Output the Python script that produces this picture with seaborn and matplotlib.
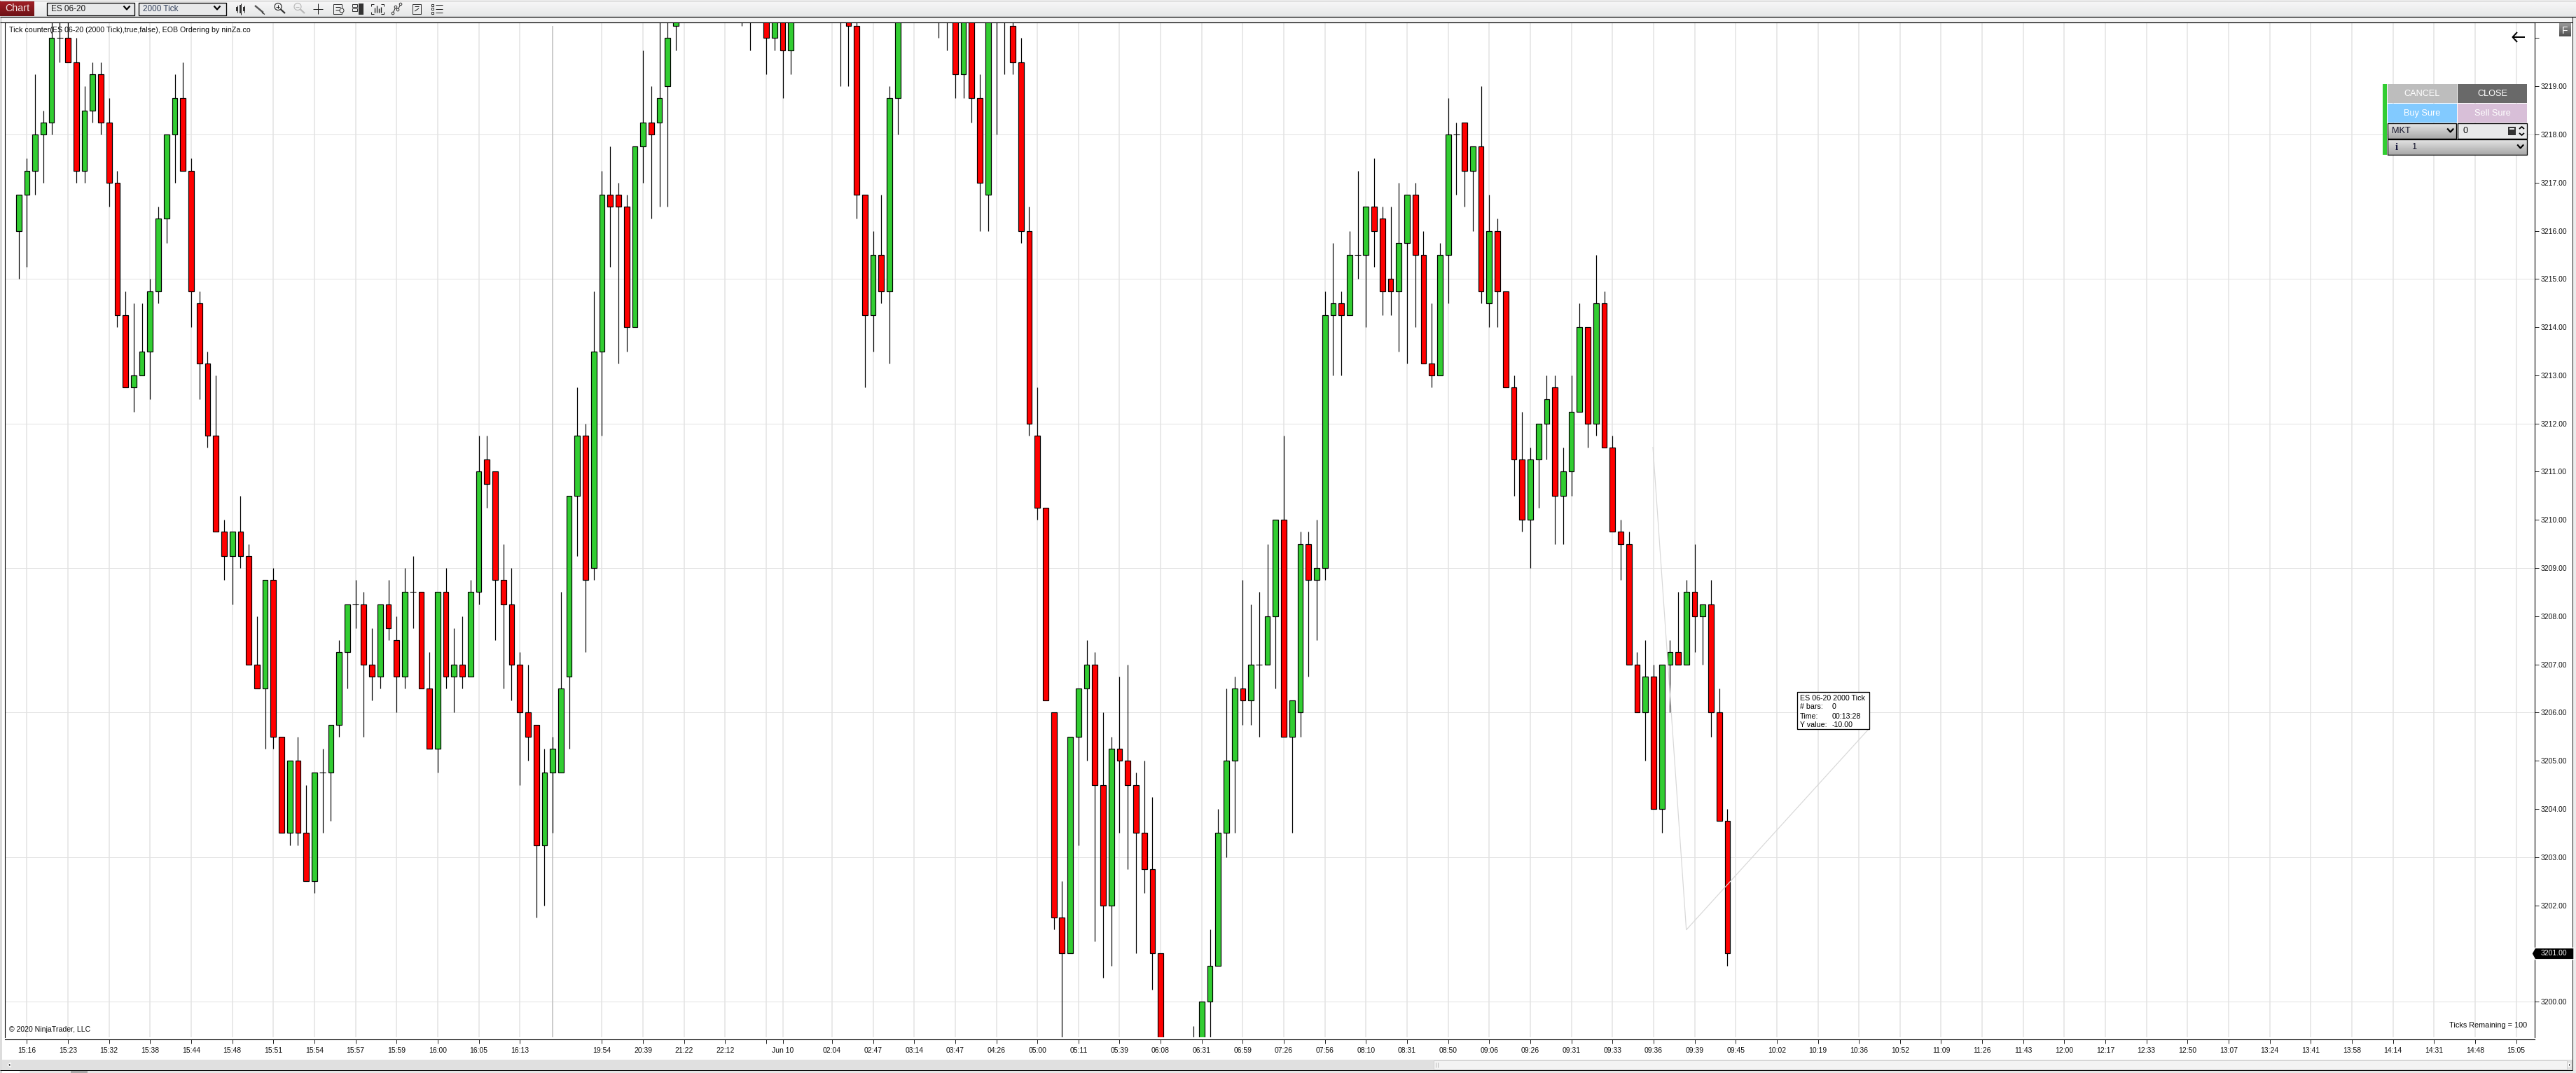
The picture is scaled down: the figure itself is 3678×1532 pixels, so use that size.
import numpy as np
import pandas as pd
import matplotlib
matplotlib.use('Agg')
import matplotlib.pyplot as plt
from matplotlib.patches import Rectangle, Polygon
import seaborn as sns

# candle values, one per bar (bars above/below the window are estimates)
opens = [
    3216, 3216.75, 3217.25, 3218, 3218.25, 3220, 3220, 3219.5, 3217.25, 3218.5,
    3219.25, 3218.25, 3217, 3214.25, 3212.75, 3213, 3213.5, 3214.75, 3216.25, 3218,
    3218.75, 3217.25, 3214.5, 3213.25, 3211.75, 3209.75, 3209.25, 3209.75, 3209.25, 3207,
    3206.5, 3208.75, 3205.5, 3203.5, 3205, 3203.5, 3202.5, 3204.75, 3204.75, 3205.75,
    3207.25, 3208.25, 3208.25, 3207, 3206.75, 3208.25, 3207.5, 3206.75, 3208.5, 3208.5,
    3206.5, 3205.25, 3208.5, 3206.75, 3207, 3206.75, 3208.5, 3211.25, 3211, 3208.75,
    3208.25, 3207, 3206, 3205.75, 3203.25, 3204.75, 3204.75, 3206.75, 3210.5, 3211.75,
    3209, 3213.5, 3216.75, 3216.75, 3216.5, 3214, 3217.75, 3218.25, 3218.25, 3219,
    3220.25, 3220.75, 3221.25, 3221.75, 3221.25, 3222, 3221.5, 3221, 3220.75, 3221.25,
    3220.75, 3220.75, 3220, 3220.5, 3219.75, 3220.75, 3221.25, 3221.75, 3221.25, 3220.75,
    3221.25, 3220.75, 3220.25, 3216.75, 3214.25, 3215.5, 3214.75, 3218.75, 3220.75, 3221.25,
    3221.75, 3221.25, 3221, 3220.75, 3220.5, 3219.25, 3220.5, 3218.75, 3216.75, 3221,
    3220.75, 3220.25, 3219.5, 3216, 3211.75, 3210.25, 3206, 3201.75, 3201, 3205.5,
    3206.5, 3207, 3204.5, 3202, 3205.25, 3205, 3204.5, 3203.5, 3202.75, 3201,
    3199, 3198.5, 3198.75, 3198.5, 3199, 3200, 3200.75, 3203.5, 3205, 3206.5,
    3206.25, 3207, 3207, 3208, 3210, 3205.5, 3206, 3209.5, 3208.75, 3209,
    3214.25, 3214.5, 3214.25, 3215.5, 3215.5, 3216.5, 3216.25, 3215, 3214.75, 3215.75,
    3216.75, 3215.5, 3213.25, 3213, 3215.5, 3218, 3218.25, 3217.25, 3217.75, 3214.5,
    3216, 3214.75, 3212.75, 3211.25, 3210, 3211.25, 3212, 3212.75, 3210.5, 3211,
    3212.25, 3214, 3212, 3214.5, 3211.5, 3209.75, 3209.5, 3207, 3206, 3206.75,
    3204, 3207, 3207.25, 3207, 3208.5, 3208, 3208.25, 3206, 3203.75,
]
closes = [
    3216.75, 3217.25, 3218, 3218.25, 3220, 3220, 3219.5, 3217.25, 3218.5, 3219.25,
    3218.25, 3217, 3214.25, 3212.75, 3213, 3213.5, 3214.75, 3216.25, 3218, 3218.75,
    3217.25, 3214.75, 3213.25, 3211.75, 3209.75, 3209.25, 3209.75, 3209.25, 3207, 3206.5,
    3208.75, 3205.5, 3203.5, 3205, 3203.5, 3202.5, 3204.75, 3204.75, 3205.75, 3207.25,
    3208.25, 3208.25, 3207, 3206.75, 3208.25, 3207.75, 3206.75, 3208.5, 3208.5, 3206.5,
    3205.25, 3208.5, 3206.75, 3207, 3206.75, 3208.5, 3211, 3210.75, 3208.75, 3208.25,
    3207, 3206, 3205.5, 3203.25, 3204.75, 3205.25, 3206.5, 3210.5, 3211.75, 3208.75,
    3213.5, 3216.75, 3216.5, 3216.5, 3214, 3217.75, 3218.25, 3218, 3218.75, 3220,
    3220.75, 3221.25, 3221.75, 3221.25, 3222, 3221.5, 3221, 3221.5, 3221.25, 3220.75,
    3221.25, 3220, 3220.5, 3219.75, 3220.75, 3221.25, 3221.75, 3221.25, 3220.75, 3221.25,
    3220.75, 3220.25, 3216.75, 3214.25, 3215.5, 3214.75, 3218.75, 3220.75, 3221.25, 3221.75,
    3221.25, 3220.75, 3220.5, 3220.5, 3219.25, 3220.5, 3218.75, 3217, 3220.75, 3220.5,
    3220.5, 3219.5, 3216, 3212, 3210.25, 3206.25, 3201.75, 3201, 3205.5, 3206.5,
    3207, 3204.5, 3202, 3205.25, 3205, 3204.5, 3203.5, 3202.75, 3201, 3199,
    3198.5, 3198.75, 3198.5, 3199, 3200, 3200.75, 3203.5, 3205, 3206.5, 3206.25,
    3207, 3207, 3208, 3210, 3205.5, 3206.25, 3209.5, 3208.75, 3209, 3214.25,
    3214.5, 3214.25, 3215.5, 3215.5, 3216.5, 3216, 3214.75, 3214.75, 3215.75, 3216.75,
    3215.5, 3213.25, 3213, 3215.5, 3218, 3218, 3217.25, 3217.75, 3214.75, 3216,
    3214.75, 3212.75, 3211.25, 3210, 3211.25, 3212, 3212.5, 3210.5, 3211, 3212.25,
    3214, 3212, 3214.5, 3211.5, 3209.75, 3209.5, 3207, 3206, 3206.75, 3204,
    3207, 3207.25, 3207, 3208.5, 3208, 3208.25, 3206, 3203.75, 3201,
]
highs = [
    3216.75, 3217.5, 3219.25, 3218.5, 3220.75, 3220.75, 3220.75, 3220, 3219, 3219.5,
    3219.5, 3218.75, 3217.25, 3214.75, 3214.5, 3214.5, 3215, 3216.5, 3218, 3219.25,
    3219.5, 3217.5, 3214.75, 3213.5, 3213, 3210, 3209.75, 3210.5, 3209.5, 3208,
    3208.75, 3209, 3205.5, 3205, 3205.5, 3204.5, 3204.75, 3205.25, 3205.75, 3207.5,
    3208.25, 3208.75, 3208.5, 3207.75, 3208.25, 3208.75, 3208, 3209, 3209.25, 3208.5,
    3207.25, 3208.5, 3209, 3207.75, 3208, 3208.75, 3211.75, 3211.75, 3211, 3209.5,
    3209, 3207.25, 3207, 3205.75, 3205.25, 3205.5, 3208.5, 3210.5, 3212.75, 3212,
    3214.75, 3217.25, 3217.75, 3217, 3216.75, 3217.75, 3219.75, 3219, 3220.75, 3220.75,
    3221, 3221.5, 3222, 3222, 3222.25, 3222.25, 3221.75, 3221.75, 3221.5, 3221.5,
    3221.5, 3221, 3220.75, 3220.75, 3221, 3221.5, 3222, 3222, 3221.5, 3221.5,
    3221.5, 3221, 3220.5, 3216.75, 3216, 3216.75, 3219, 3221, 3221.5, 3222,
    3222, 3221.5, 3221.25, 3221, 3220.75, 3220.75, 3220.75, 3219.25, 3221, 3221.25,
    3221, 3220.75, 3220, 3216.5, 3212.75, 3210.25, 3206, 3202.5, 3205.5, 3206.5,
    3207.5, 3207.25, 3206, 3205.5, 3206.75, 3207, 3204.75, 3205, 3204.25, 3201,
    3199, 3199, 3199, 3199.5, 3200, 3201.5, 3204, 3206.5, 3206.75, 3208.75,
    3208.25, 3208.5, 3209.5, 3210, 3211.75, 3206.25, 3209.75, 3209.75, 3210, 3214.75,
    3215.75, 3214.75, 3216, 3217.25, 3216.5, 3217.5, 3216.5, 3216.5, 3217, 3216.75,
    3217, 3216, 3214.5, 3215.75, 3218.75, 3218.25, 3218.25, 3217.75, 3219, 3216.75,
    3216.25, 3214.75, 3213, 3212.25, 3211.5, 3212, 3213, 3213, 3211.5, 3213,
    3214.5, 3214, 3215.5, 3214.75, 3211.75, 3210, 3209.75, 3207.25, 3207.5, 3207,
    3207, 3207.5, 3208.5, 3208.75, 3209.5, 3208.25, 3208.75, 3206.5, 3204,
]
lows = [
    3215, 3215.25, 3216.75, 3217, 3218, 3219.5, 3219.5, 3217, 3217, 3218.25,
    3218, 3216.5, 3214, 3212.75, 3212.25, 3213, 3212.5, 3214.5, 3215.75, 3217,
    3217.25, 3214, 3212.5, 3211.5, 3209.75, 3208.75, 3208.25, 3209, 3207, 3206.5,
    3205.25, 3205.25, 3203.5, 3203.25, 3203.25, 3202.5, 3202.25, 3203.5, 3203.75, 3205.5,
    3206.5, 3207.75, 3205.5, 3206.25, 3206.5, 3207.5, 3206, 3206.5, 3207.75, 3206.5,
    3205.25, 3204.75, 3206.5, 3206, 3206.5, 3206.75, 3208.25, 3210.25, 3207.5, 3206.5,
    3206.25, 3204.5, 3205, 3201.75, 3202, 3203.5, 3204.75, 3205.25, 3209.25, 3207.25,
    3208.75, 3211.75, 3215.25, 3213.25, 3213.5, 3214, 3217, 3216.25, 3216.5, 3216.5,
    3219.75, 3220.5, 3221, 3221, 3221, 3221.25, 3220.75, 3220.5, 3220.25, 3219.75,
    3220.5, 3219.25, 3219.75, 3218.75, 3219.25, 3220.5, 3221, 3221, 3220.5, 3220.5,
    3219, 3219, 3216.25, 3212.75, 3213.5, 3214.5, 3213.25, 3218, 3220.5, 3221,
    3221, 3220.5, 3220, 3219.75, 3218.75, 3218.75, 3218.25, 3216, 3216, 3218,
    3219.25, 3219.25, 3215.75, 3211.75, 3210, 3206.25, 3201.5, 3199, 3201, 3203.25,
    3205, 3201.25, 3200.5, 3200.75, 3203.5, 3202.75, 3201, 3202.25, 3200.25, 3199,
    3198.25, 3198.25, 3198.25, 3198.25, 3198.75, 3199, 3200.75, 3203, 3203.5, 3205.75,
    3205.75, 3205.5, 3207, 3206.5, 3205.5, 3203.5, 3205.5, 3206.75, 3207.5, 3208.75,
    3213, 3213, 3214.25, 3215, 3214, 3215.25, 3214.25, 3214.25, 3213.5, 3213.25,
    3214, 3213.25, 3212.75, 3213, 3214.5, 3216.75, 3216.5, 3216, 3214.5, 3214,
    3214, 3212.75, 3210.5, 3209.75, 3209, 3210.25, 3211.25, 3209.5, 3209.5, 3210.5,
    3212.25, 3211.5, 3211.75, 3211.5, 3209.75, 3208.75, 3207, 3206, 3205, 3204,
    3203.5, 3206, 3207, 3207, 3207.25, 3207, 3205.5, 3203.75, 3200.75,
]

# time axis labels and the bars they sit on
tick_bars = [1, 6, 11, 16, 21, 26, 31, 36, 41, 46, 51, 56, 61, 71, 76, 81, 86, 91, 93, 99,
             104, 109, 114, 119, 124, 129, 134, 139, 144, 149, 154, 159, 164, 169, 174, 179,
             184, 189, 194, 199, 204, 209, 214, 219, 224, 229, 234, 239, 244, 249, 254, 259,
             264, 269, 274, 279, 284, 289, 294, 299, 304]
tick_labels = ['15:16', '15:23', '15:32', '15:38', '15:44', '15:48', '15:51', '15:54', '15:57',
               '15:59', '16:00', '16:05', '16:13', '19:54', '20:39', '21:22', '22:12', '',
               'Jun 10', '02:04', '02:47', '03:14', '03:47', '04:26', '05:00', '05:11', '05:39',
               '06:08', '06:31', '06:59', '07:26', '07:56', '08:10', '08:31', '08:50', '09:06',
               '09:26', '09:31', '09:33', '09:36', '09:39', '09:45', '10:02', '10:19', '10:36',
               '10:52', '11:09', '11:26', '11:43', '12:00', '12:17', '12:33', '12:50', '13:07',
               '13:24', '13:41', '13:58', '14:14', '14:31', '14:48', '15:05']
session_break = 65
price_labels = list(range(3200, 3220))
price_ticks = list(range(3200, 3221))
grid_prices = [3200, 3203, 3206, 3209, 3212, 3215, 3218]
last_price = 3201.00

W, H = 3678, 1532
GREEN = '#32cd32'
RED = '#ff0000'
GRID = '#e2e2e2'
PX = 0.72  # one pixel in points at dpi 100

sns.set_style('white')
plt.rcParams['font.family'] = ['Liberation Sans', 'DejaVu Sans']

df = pd.DataFrame({'open': opens, 'high': highs, 'low': lows, 'close': closes})
df['bar'] = df.index
df['bottom'] = df[['open', 'close']].min(axis=1)
df['height'] = (df['close'] - df['open']).abs()
up = df[df['close'] > df['open']]
down = df[df['close'] < df['open']]
flat = df[df['close'] == df['open']]

fig = plt.figure(figsize=(W / 100, H / 100), dpi=100, facecolor='white')

# price window in figure pixels: left 7, right 3619, top 32, bottom 1481
ax = fig.add_axes([7.1 / W, 1 - 1481 / H, (3619.3 - 7.1) / W, (1481 - 31.6) / H])
ax.set_facecolor('white')

ax.hlines(grid_prices, 0, 1, transform=ax.get_yaxis_transform(), colors=GRID, lw=1 * PX, zorder=0.5)
ax.vlines(tick_bars, 0, 1, transform=ax.get_xaxis_transform(), colors=GRID, lw=1.5 * PX, zorder=0.5)
ax.vlines([session_break], 0, 0.996, transform=ax.get_xaxis_transform(), colors='#c0c0c0', lw=1.6 * PX, zorder=1)

ax.vlines(df['bar'], df['low'], df['high'], colors='black', lw=1.2 * PX, zorder=2)
ax.hlines(flat['open'], flat['bar'] - 0.38, flat['bar'] + 0.38, colors='black', lw=1.1 * PX, zorder=2)

for part, colour in [(up, GREEN), (down, RED)]:
    sns.barplot(data=part, x='bar', y='height', bottom=part['bottom'].values, native_scale=True,
                width=0.66, color=colour, saturation=1, edgecolor='black', linewidth=1.2 * PX,
                errorbar=None, zorder=3, ax=ax)

ax.set_xlim(-1.668, 306.28)
ax.set_ylim(3199.263, 3220.33)
ax.set_xlabel('')
ax.set_ylabel('')
ax.yaxis.tick_right()
ax.set_yticks(price_ticks)
ax.set_yticklabels([f'{p}.00' if p in price_labels else '' for p in price_ticks])
ax.set_xticks(tick_bars)
ax.set_xticklabels(tick_labels)
ax.tick_params(axis='y', length=5.5 * PX, width=1 * PX, pad=2.2, labelsize=7.5, labelcolor='#111111', right=True, left=False)
ax.tick_params(axis='x', length=5.5 * PX, width=1 * PX, pad=4, labelsize=7.5, labelcolor='#111111', bottom=True)
for s in ax.spines.values():
    s.set_visible(True)
    s.set_color('black')
    s.set_linewidth(1.1 * PX)
ax.spines['bottom'].set_position(('outward', 2.7 * PX))

# window furniture is drawn in pixel coordinates on a clear overlay
ui = fig.add_axes([0, 0, 1, 1], facecolor='none', zorder=5)
ui.set_xlim(0, W)
ui.set_ylim(H, 0)
ui.axis('off')


def box(x0, y0, x1, y1, fc='white', ec='none', lw=1.0, z=1):
    ui.add_patch(Rectangle((x0, y0), x1 - x0, y1 - y0, facecolor=fc, edgecolor=ec, linewidth=lw * PX, zorder=z))


def grad(x0, y0, x1, y1, top, bottom, z=1):
    vals = np.linspace(0, 1, 32).reshape(-1, 1, 1)
    c0 = np.array(matplotlib.colors.to_rgb(top)).reshape(1, 1, 3)
    c1 = np.array(matplotlib.colors.to_rgb(bottom)).reshape(1, 1, 3)
    ui.imshow(c0 + (c1 - c0) * vals, extent=(x0, x1, y1, y0), aspect='auto', zorder=z, interpolation='bilinear')


def seg(xs, ys, c='#222222', lw=1.2, z=3):
    ui.plot(xs, ys, color=c, lw=lw * PX, zorder=z, solid_capstyle='butt')


def chevron(x, y, c='black'):
    seg([x - 4.5, x, x + 4.5], [y - 2.5, y + 2.5, y - 2.5], c=c, lw=2.2, z=4)


def label(x, y, s, size=7.5, c='#1a1a1a', ha='left', z=4, **kw):
    ui.text(x, y, s, fontsize=size, color=c, ha=ha, va='center', zorder=z, **kw)


# toolbar
box(0, 24, W, 31, fc='#f4f4f4')
grad(0, 0, W, 24, '#f8f8f8', '#e6e7e8')
seg([0, W], [0.5, 0.5], c='#b8b8b8', lw=1)
seg([0, W], [24, 24], c='black', lw=1.2)
grad(0, 1, 49, 23, '#a32026', '#6e1216', z=2)
label(7, 12, 'Chart', size=10.3, c='#f4e6e6')
box(67, 3.5, 192, 21.5, fc='#e8e9ea', ec='black', lw=1.3, z=2)
label(73, 12.5, 'ES 06-20', size=8.5)
chevron(181, 11)
box(198, 3.5, 323, 21.5, fc='#e8e9ea', ec='black', lw=1.3, z=2)
label(204, 12.5, '2000 Tick', size=8.5, c='#33415c')
chevron(310, 11)

# toolbar icons
for x, y0, y1 in [(339, 8, 18), (344, 5, 21), (349, 8, 18)]:
    seg([x, x], [y0, y1], lw=1)
    box(x - 1.5, y0 + 2, x + 1.5, y1 - 2, fc='#333333', z=3)
seg([364, 376], [8, 18], c='#555555', lw=2.4)
seg([374, 378], [18, 20.5], lw=1.2)
for x, c in [(397, '#333333'), (425, '#b9b9b9')]:
    ui.add_patch(plt.Circle((x, 9.5), 5, fc='none', ec=c, lw=1.2 * PX, zorder=3))
    seg([x + 3.5, x + 10], [13, 19], c=c, lw=2.2)
    seg([x - 2.5, x + 2.5], [9.5, 9.5], c=c, lw=1)
seg([397, 397], [7, 12], lw=1)
seg([447, 461], [12.5, 12.5], lw=1)
seg([454, 454], [5, 20], lw=1)
box(476, 5.5, 488, 20, fc='none', ec='#333333', z=3)
seg([479, 486], [10, 10], lw=1)
seg([479, 486], [14, 14], lw=1)
ui.add_patch(plt.Circle((488, 15), 3, fc='#f0f0f0', ec='#333333', lw=1 * PX, zorder=4))
box(503, 5.5, 510, 10, fc='none', ec='#333333', z=3)
box(503, 12, 510, 16, fc='none', ec='#333333', z=3)
box(512, 5, 519, 21, fc='#333333', z=3)
seg([530, 530, 534], [9, 6, 6], lw=1)
seg([544, 548, 548], [6, 6, 9], lw=1)
seg([530, 530, 534], [17, 20, 20], lw=1)
seg([544, 548, 548], [20, 20, 17], lw=1)
for x, y in [(535, 11), (538, 8), (541, 12), (544, 10)]:
    seg([x, x], [y, 18], lw=1.3)
seg([561, 565, 568, 572], [19, 10, 14, 6], lw=1)
for x, y in [(561, 19), (565, 10), (568, 14), (572, 6)]:
    ui.add_patch(plt.Circle((x, y), 1.8, fc='#f0f0f0', ec='#333333', lw=1 * PX, zorder=4))
box(589, 5.5, 601, 20, fc='none', ec='#333333', z=3)
seg([592, 598], [9, 9], lw=1)
seg([592, 598], [16, 12], lw=1)
for y in [7, 12.5, 18]:
    box(616, y - 1.5, 619.5, y + 1.5, fc='none', ec='#333333', z=3)
    seg([622, 632], [y, y], lw=1)

# left strip, right strip, scrollbar
box(0, 24, 3, H, fc='#dcdcdc')
box(3673.5, 24, W, H, fc='#ececec')
seg([3673.5, 3673.5], [24, 1528], c='#222222', lw=1)
seg([0, 3673], [31.6, 31.6], c='black', lw=1.1)
box(3, 1513, 3673, 1528, fc='#e0e0e0')
box(2047, 1514, 3665, 1527, fc='#f3f3f3', ec='#d0d0d0', z=2)
seg([2050, 2050], [1517, 1524], c='#bdbdbd', lw=1, z=3)
seg([2053, 2053], [1517, 1524], c='#bdbdbd', lw=1, z=3)
ui.add_patch(Polygon([[11, 1520.5], [15, 1517.5], [15, 1523.5]], fc='black', zorder=3))
ui.add_patch(Polygon([[3671, 1520.5], [3667.5, 1517.5], [3667.5, 1523.5]], fc='black', zorder=3))
seg([0, 3673], [1528, 1528], c='black', lw=1)
box(3, 1528.5, 28, H, fc='white', z=2)
box(28, 1528.5, 3673, H, fc='#e6e6e6', z=2)
box(101, 1528.5, 125, H, fc='#aaaaaa', z=3)

# chart captions
label(13, 43, 'Tick counter(ES 06-20 (2000 Tick),true,false), EOB Ordering by ninZa.co', size=7.62, c='#0a0a0a')
label(13, 1470, '© 2020 NinjaTrader, LLC', size=7.6, c='#0a0a0a')
label(3608, 1464, 'Ticks Remaining = 100', size=7.8, c='#0a0a0a', ha='right')

# back arrow and F button
seg([3587.5, 3605], [53, 53], c='black', lw=2)
seg([3594, 3587.5, 3594], [46, 53, 60], c='black', lw=2)
grad(3654, 34, 3670.5, 52.5, '#9a9a9a', '#4f4f4f')
label(3662.2, 43.5, 'F', size=10, c='white', ha='center')

# measure line and its box
seg([2360, 2407.7, 2668], [638, 1327.6, 1041], c='#d8d8d8', lw=1.2, z=2)
box(2566.3, 988, 2668.7, 1041, fc='white', ec='black', lw=1.3, z=3)
for y, a, b in [(996.5, 'ES 06-20 2000 Tick', ''), (1009.5, '# bars:', '0'),
                (1022.5, 'Time:', '00:13:28'), (1034.5, 'Y value:', '-10.00')]:
    label(2570, y, a, size=7.7, c='black')
    if b:
        label(2615.5, y, b, size=7.7, c='black')

# last price flag
ui.add_patch(Polygon([[3615, 1361.5], [3619.5, 1353.5], [3675, 1353.5], [3675, 1369.8], [3619.5, 1369.8]],
                     fc='black', zorder=4))
label(3628, 1361.5, f'{last_price:.2f}', size=7.5, c='white', z=5)

# order panel
box(3402, 120, 3408.3, 221, fc=GREEN)
box(3409, 120, 3508, 147, fc='#bdbdbd')
box(3509, 120, 3607.7, 147, fc='#696969')
box(3409, 148, 3508, 175, fc='#82caff')
box(3509, 148, 3607.7, 175, fc='#d8bfd8')
label(3458.5, 134, 'CANCEL', size=9.2, c='white', ha='center')
label(3558.5, 134, 'CLOSE', size=9.2, c='white', ha='center')
label(3458.5, 162, 'Buy Sure', size=9.2, c='white', ha='center')
label(3558.5, 162, 'Sell Sure', size=9.2, c='white', ha='center')
grad(3409, 176, 3507.5, 197.7, '#e4e4e4', '#a8a8a8', z=2)
box(3409, 176, 3507.5, 197.7, fc='none', ec='black', lw=1.3, z=3)
label(3415, 187, 'MKT', size=9.2, c='#14142b')
chevron(3498.7, 186)
box(3509, 176, 3607.7, 197.7, fc='#e8e9ea', ec='black', lw=1.3, z=2)
label(3517, 187, '0', size=9.2, c='#111111')
box(3581, 181, 3592, 193, fc='#333333', z=3)
box(3583, 183, 3590, 185, fc='#e8e9ea', z=4)
seg([3597, 3600.5, 3604], [184, 181, 184], c='black', lw=1.8)
seg([3597, 3600.5, 3604], [190, 193, 190], c='black', lw=1.8)
grad(3409, 199, 3607.7, 220.7, '#e4e4e4', '#a8a8a8', z=2)
box(3409, 199, 3607.7, 220.7, fc='none', ec='black', lw=1.3, z=3)
label(3421.5, 210, 'i', size=10.5, c='#14143c', ha='center', family='Liberation Serif', fontweight='bold')
label(3444.5, 210, '1', size=9.2, c='#14142b')
chevron(3598.7, 209)

ui.set_xlim(0, W)
ui.set_ylim(H, 0)

fig.savefig('out.png', dpi=100, facecolor='white')
